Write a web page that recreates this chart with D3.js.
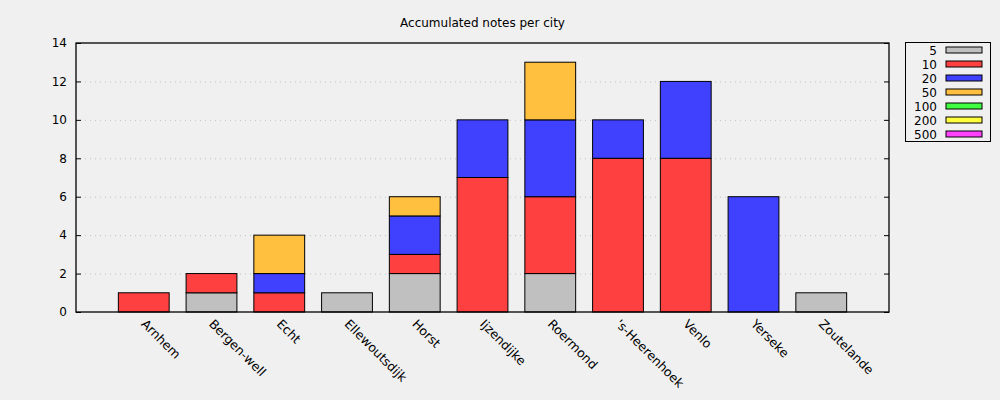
<!DOCTYPE html>
<html><head><meta charset="utf-8">
<script src="https://cdn.jsdelivr.net/npm/d3@7"></script>
<style>
body{margin:0;background:#f0f0f0;}
svg{display:block;font-family:"DejaVu Sans",sans-serif;}
</style></head><body>
<svg id="c" width="1000" height="400"></svg>
<script>
const cities = ["Arnhem","Bergen-well","Echt","Ellewoutsdijk","Horst","Ijzendijke","Roermond","'s-Heerenhoek","Venlo","Yerseke","Zoutelande"];
const notes = ["5","10","20","50","100","200","500"];
const colors = ["#c0c0c0","#ff4040","#4040ff","#ffc040","#40ff40","#ffff40","#ff40ff"];
const n5   = [0,1,0,1,2,0,2,0,0,0,1];
const n10  = [1,1,1,0,1,7,4,8,8,0,0];
const n20  = [0,0,1,0,2,3,4,2,4,6,0];
const n50  = [0,0,2,0,1,0,3,0,0,0,0];
const n100 = [0,0,0,0,0,0,0,0,0,0,0];
const n200 = [0,0,0,0,0,0,0,0,0,0,0];
const n500 = [0,0,0,0,0,0,0,0,0,0,0];
const yTicks = [0,2,4,6,8,10,12,14];
const title = "Accumulated notes per city";

const series = [n5,n10,n20,n50,n100,n200,n500];
const rows = cities.map((c,i)=>{const r={city:c}; notes.forEach((k,j)=>r[k]=series[j][i]); return r;});
const stack = d3.stack().keys(notes)(rows);

const L=76,R=889,T=43,B=312;
const svg=d3.select("#c");
svg.append("rect").attr("width",1000).attr("height",400).attr("fill","#f0f0f0");
const x=d3.scaleLinear().domain([0,cities.length+1]).range([L,R]);
const y=d3.scaleLinear().domain([0,14]).range([B,T]);
const bw=(x(1)-x(0))*0.75;

// grid
svg.append("g").selectAll("line").data(yTicks.filter(v=>v>0&&v<14)).join("line")
  .attr("x1",L+9).attr("x2",R-9).attr("y1",d=>y(d)+0.5).attr("y2",d=>y(d)+0.5)
  .attr("stroke","#c0c0c0").attr("stroke-width",1).attr("stroke-dasharray","1,4");

// bars
stack.forEach((s,j)=>{
  svg.append("g").selectAll("rect").data(s.filter(d=>d[1]>d[0])).join("rect")
    .attr("x",(d,i)=>x(cities.indexOf(d.data.city)+1)-bw/2)
    .attr("y",d=>y(d[1]))
    .attr("width",bw).attr("height",d=>y(d[0])-y(d[1]))
    .attr("fill",colors[j]).attr("stroke","#000").attr("stroke-width",1);
});

// axes
const yl=d3.axisLeft(y).tickValues(yTicks).tickSize(-5).tickPadding(9);
const gy=svg.append("g").attr("transform",`translate(${L},0)`).call(yl);
gy.select(".domain").remove();
gy.selectAll("text").attr("font-size",12).attr("fill","#000").attr("font-family","DejaVu Sans");
const yr=d3.axisRight(y).tickValues(yTicks).tickSize(-5).tickFormat("");
const gyr=svg.append("g").attr("transform",`translate(${R},0)`).call(yr);
gyr.select(".domain").remove();
svg.append("rect").attr("x",L).attr("y",T).attr("width",R-L).attr("height",B-T)
  .attr("fill","none").attr("stroke","#000").attr("stroke-width",1.3);

const xa=d3.axisBottom(x).tickValues(d3.range(1,cities.length+1)).tickSize(0).tickFormat(d=>cities[d-1]);
const gx=svg.append("g").attr("transform",`translate(0,${B})`).call(xa);
gx.select(".domain").remove();
gx.selectAll("text").attr("font-size",12.5).attr("fill","#000").attr("font-family","DejaVu Sans")
  .attr("text-anchor","start").attr("dy",null).attr("y",0)
  .attr("transform","translate(3,6) rotate(45)").attr("dominant-baseline","hanging");

// title
svg.append("text").attr("x",(L+R)/2).attr("y",27).attr("text-anchor","middle")
  .attr("font-size",12).text(title);

// legend
const lg=svg.append("g");
lg.append("rect").attr("x",905.5).attr("y",42.5).attr("width",85).attr("height",99).attr("fill","none").attr("stroke","#000");
notes.forEach((k,j)=>{
  const yy=50+j*14;
  lg.append("text").attr("x",937).attr("y",yy+4.5).attr("text-anchor","end").attr("font-size",12).text(k);
  lg.append("rect").attr("x",946).attr("y",yy-3).attr("width",36).attr("height",6).attr("fill",colors[j]).attr("stroke","#000");
});
</script></body></html>
